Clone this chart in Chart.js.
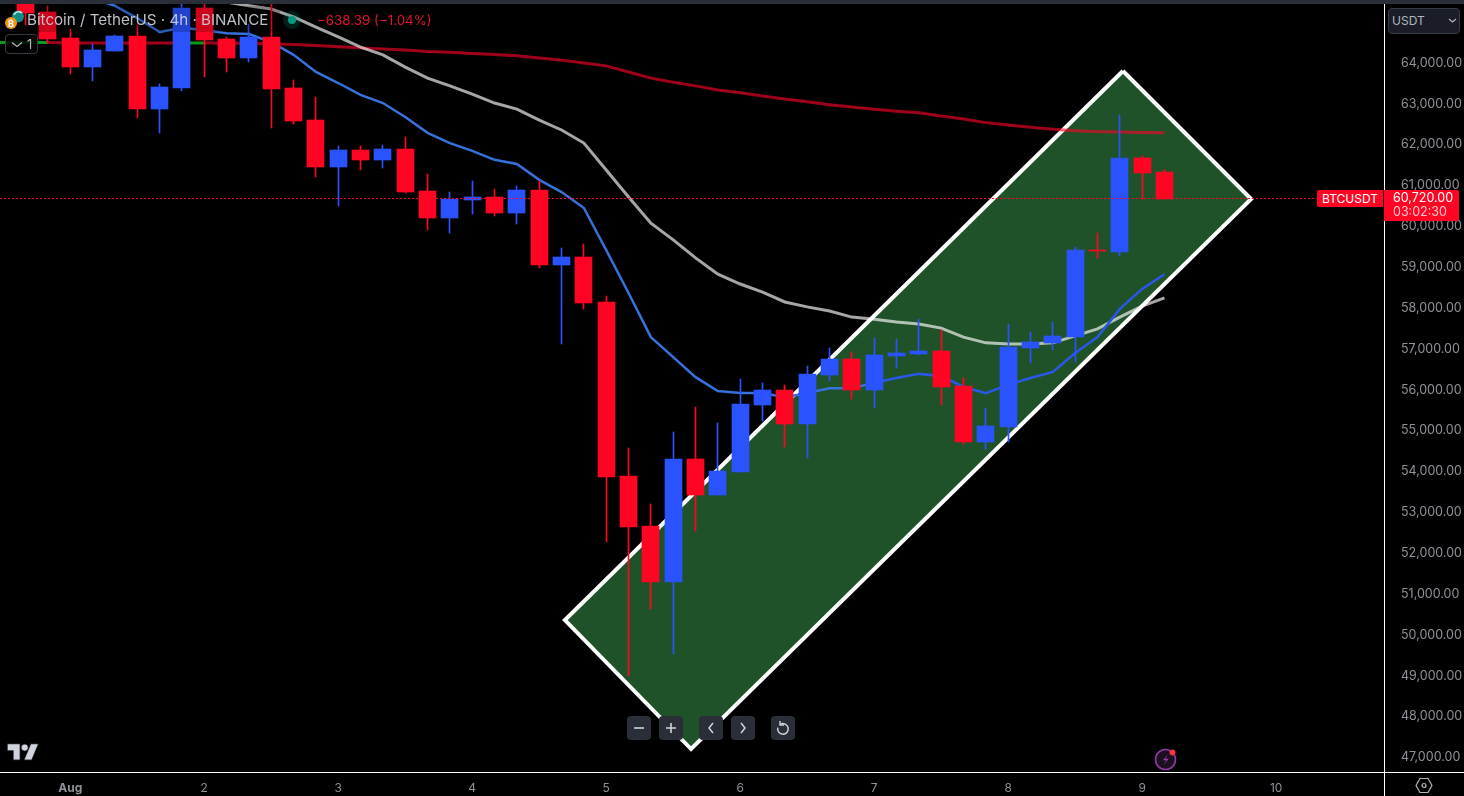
<!DOCTYPE html>
<html>
<head>
<meta charset="utf-8">
<script src="https://cdn.jsdelivr.net/npm/chart.js@4"></script>
<style>
html,body{margin:0;padding:0;background:#000;width:1464px;height:796px;overflow:hidden;font-family:Inter,Roboto,sans-serif}
#wrap{position:absolute;left:0;top:0;width:1464px;height:796px}
.o{position:absolute;white-space:nowrap}
.btn{position:absolute;top:716px;width:24px;height:24px;background:#2a2e39;border-radius:4px}
.btn svg{position:absolute;left:0;top:0}
</style>
</head>
<body>
<div id="wrap"><canvas id="c"></canvas></div>

<div class="o" style="left:0;top:0;width:1464px;height:4px;background:#2a2e39"></div>
<div class="o" style="left:1384px;top:4px;width:1px;height:792px;background:#fff"></div>
<div class="o" style="left:0;top:772px;width:1464px;height:1px;background:#fff"></div>

<div class="o" style="left:36px;top:6px;width:244px;height:26px;background:rgba(0,0,0,.2)"></div>
<svg class="o" style="left:0;top:0" width="40" height="36">
  <circle cx="18" cy="16.5" r="6" fill="#0f8f84"/>
  <path d="M14 15a5 5 0 0 1 8-2" stroke="#cfeee9" stroke-width="1.5" fill="none"/>
  <circle cx="11" cy="23" r="6" fill="#f7931a"/>
  <text x="11" y="26.5" font-size="9" font-weight="700" fill="#fff" text-anchor="middle" font-family="Inter">&#8383;</text>
</svg>
<div class="o" style="left:27px;top:11px;font-size:15.15px;line-height:18px;color:#d1d4dc;opacity:.9">Bitcoin / TetherUS · 4h · BINANCE</div>
<svg class="o" style="left:282px;top:10px" width="20" height="20">
  <circle cx="10" cy="10" r="9" fill="rgba(8,153,129,.2)"/><circle cx="10" cy="10" r="4" fill="#089981"/>
</svg>
<div class="o" style="left:317px;top:12px;font-size:13.35px;line-height:17px;color:#e0122c">−638.39 (−1.04%)</div>
<div class="o" style="left:5px;top:34px;width:31px;height:18px;border:1px solid #363a45;border-radius:4px;background:rgba(0,0,0,.85)">
  <svg style="position:absolute;left:4px;top:5px" width="14" height="10"><path d="M2 2.5l5 4 5-4" stroke="#b2b5be" stroke-width="1.3" fill="none"/></svg>
  <span style="position:absolute;left:21px;top:1px;font-size:13px;line-height:17px;color:#b2b5be">1</span>
</div>

<div class="o" style="left:1388px;top:8px;width:70px;height:24px;border:1px solid #363a45;border-radius:4px;background:#1a1d27">
  <span style="position:absolute;left:3px;top:4px;font-size:12px;line-height:16px;color:#b2b5be">USDT</span>
  <svg style="position:absolute;left:59px;top:8px" width="10" height="8"><path d="M1 2l3.5 3L8 2" stroke="#b2b5be" stroke-width="1.2" fill="none"/></svg>
</div>

<div class="o" style="left:1317px;top:190px;width:66px;height:17px;background:#ff0523;border-radius:2px 0 0 2px;color:#fff;font-size:12px;line-height:17px;text-align:center">BTCUSDT</div>
<div class="o" style="left:1384px;top:190px;width:75px;height:31px;background:#ff0523;border-radius:0 2px 2px 0">
  <span style="position:absolute;left:9px;top:0;font-size:12.5px;line-height:16px;color:#fff">60,720.00</span>
  <span style="position:absolute;left:9px;top:14px;font-size:12.5px;line-height:16px;color:#ffc4cc">03:02:30</span>
</div>

<div class="btn" style="left:627px"><svg width="24" height="24"><path d="M7 12h10" stroke="#d1d4dc" stroke-width="1.6"/></svg></div>
<div class="btn" style="left:659px"><svg width="24" height="24"><path d="M7 12h10M12 7v10" stroke="#d1d4dc" stroke-width="1.6"/></svg></div>
<div class="btn" style="left:699px"><svg width="24" height="24"><path d="M14 7l-4 5 4 5" stroke="#d1d4dc" stroke-width="1.5" fill="none"/></svg></div>
<div class="btn" style="left:731px"><svg width="24" height="24"><path d="M10 7l4 5-4 5" stroke="#d1d4dc" stroke-width="1.5" fill="none"/></svg></div>
<div class="btn" style="left:771px"><svg width="24" height="24"><path d="M9.5 8.2a5.3 5.3 0 1 1-2.7 3.4" stroke="#d1d4dc" stroke-width="1.5" fill="none"/><path d="M9 5v4h4" stroke="#d1d4dc" stroke-width="1.4" fill="none"/></svg></div>

<svg class="o" style="left:5px;top:740px" width="36" height="22" viewBox="-1 -3 38 26">
  <g fill="#d1d4dc" stroke="#2a2e39" stroke-width="1.6" paint-order="stroke">
    <path d="M14 20H7V9H0V2h14v18z"/><path d="M28 20h-8l7.5-18h8L28 20z"/><circle cx="20" cy="6" r="3.6"/>
  </g>
</svg>
<svg class="o" style="left:1152px;top:746px" width="28" height="26">
  <circle cx="13.5" cy="13.5" r="10" fill="#1b0f20" stroke="#8e3aa0" stroke-width="1.6"/>
  <path d="M16 8l-5 6.2h3.4L11.5 19l5.2-6.2h-3.4z" fill="#9c3fb0"/>
  <circle cx="20.5" cy="6.5" r="3" fill="#f23645"/>
</svg>
<svg class="o" style="left:1415px;top:776px" width="18" height="20">
  <path d="M5 2.5h8l4 7-4 7H5l-4-7z" stroke="#b2b5be" stroke-width="1.2" fill="none"/><circle cx="9" cy="9.5" r="2" stroke="#b2b5be" stroke-width="1.2" fill="none"/>
</svg>

<script>
const barIndex = Array.from({length: 54}, (_, k) => k - 4);

const opens = [null,null,65540,65250,64610,63900,64290,64660,62870,63390,65350,64590,64120,64640,63390,62600,61450,61870,61630,61890,60870,60210,60650,60720,60330,60890,59050,59250,58150,53890,52670,51300,54310,53420,53990,55630,55990,55160,56360,56750,55990,56830,56880,56950,56090,54720,55090,57020,57150,57290,59420,59370,61670,61330];
const closes = [null,null,65220,64590,63900,64320,64660,62870,63410,65350,64560,64120,64640,63360,62580,61450,61870,61630,61890,60840,60210,60670,60720,60330,60890,59050,59250,58120,53870,52640,51300,54310,53420,54010,55650,55990,55160,56390,56750,55990,56850,56900,56950,56070,54720,55110,57050,57170,57320,59420,59400,61670,61310,60670];
const highs = [null,null,65660,65400,64830,64470,64690,64930,63490,65660,65660,64640,64950,65660,63580,63170,61970,61970,61990,62190,61280,60840,61110,60920,60990,61110,59470,59570,58300,54580,53200,54970,55580,55190,56260,56170,56120,56580,57020,56930,57270,57240,57730,57460,56290,55550,57610,57410,57660,59500,59840,62730,61720,61380];
const lows = [null,null,64930,64490,63730,63560,64290,62650,62290,63310,63660,63780,64020,62410,62510,61210,60500,61380,61430,60820,59910,59840,60300,60250,60060,58980,57120,57980,52270,48990,50630,49530,52540,53420,53990,55240,54600,54330,56220,55770,55550,56530,56850,55630,54670,54550,54720,56660,56970,56680,59230,59280,60670,60670];

const blueLine = [null,null,null,null,null,65590,65400,65100,64760,64860,64810,64730,64710,64510,64200,63780,63510,63220,63020,62680,62290,62040,61850,61630,61530,61140,60840,60450,59420,58370,57290,56800,56310,55970,55920,55920,55820,55920,56040,56040,56170,56290,56390,56340,56070,55920,56120,56290,56440,56900,57290,57980,58470,58830];
const grayLine = [null,null,null,null,null,null,null,null,null,null,null,65490,65400,65320,65130,64880,64640,64390,64200,63900,63630,63440,63240,63020,62870,62600,62360,62040,61380,60720,60080,59670,59230,58830,58590,58390,58150,58030,57930,57780,57730,57660,57610,57510,57290,57150,57120,57120,57150,57320,57490,57780,58050,58250];
const redLine = [64500,64500,64500,64500,64490,64490,64490,64490,64490,64490,64490,64490,64480,64470,64450,64430,64400,64370,64340,64320,64280,64260,64230,64210,64180,64120,64070,64000,63930,63780,63630,63530,63440,63340,63270,63190,63120,63050,62980,62920,62870,62820,62780,62700,62630,62540,62480,62430,62380,62340,62320,62310,62300,62290];
const greenRuns = [[-4,-1],[5,6]];
const blueShiftIndex = 36;

const channelX = [47.14,52.88,27.80,22.15,47.14];
const channelY = [63804,60671,47207,50365,63804];

const lastPrice = 60683;
const lastPriceX = [-3.15,55.8];

const priceTicks = [47000,48000,49000,50000,51000,52000,53000,54000,55000,56000,57000,58000,59000,60000,61000,62000,63000,64000];
const dayTickIndex = [0,6,12,18,24,30,36,42,48,54];
const dayTickLabels = ['Aug','2','3','4','5','6','7','8','9','10'];

const xMin = -3.148, xMax = 58.83, yMin = 46645, yMax = 65444;
const UP = '#2b52ff', DOWN = '#ff0523';

const pick = arr => barIndex.map((x, k) => ({x, v: arr[k]})).filter(d => d.v !== null).map(d => ({x: d.x, y: d.v}));
const candleRows = barIndex.map((x, k) => ({x, o: opens[k], c: closes[k], h: highs[k], l: lows[k]})).filter(r => r.o !== null);
const candleColors = candleRows.map(r => r.c >= r.o ? UP : DOWN);

const snap = {
  id: 'snap',
  afterDatasetsUpdate(chart) {
    chart.data.datasets.forEach((ds, i) => {
      if (ds.type !== 'bar') return;
      chart.getDatasetMeta(i).data.forEach(el => {
        const h = el.width / 2;
        el.x = Math.round(el.x - h) + h;
        el.y = Math.round(el.y);
        el.base = Math.round(el.base);
      });
    });
  }
};

const noPad = s => { s.paddingTop = 0; s.paddingBottom = 0; s.paddingLeft = 0; s.paddingRight = 0; };

new Chart(document.getElementById('c'), {
  data: {
    datasets: [
      {type:'line', label:'Channel', order:9, data: channelX.map((x,k)=>({x, y:channelY[k]})),
       borderColor:'#fff', borderWidth:4, backgroundColor:'#205229', fill:'shape', pointRadius:0, tension:0, borderJoinStyle:'miter'},
      {type:'line', label:'MA 200', order:8, data: pick(redLine), borderColor:'rgba(255,0,40,.62)', borderWidth:3, pointRadius:0, tension:0,
       segment:{borderColor: c => greenRuns.some(g => c.p0.parsed.x >= g[0] && c.p1.parsed.x <= g[1]) ? '#0a9a1e' : undefined}},
      {type:'line', label:'MA 50', order:7, data: pick(grayLine), borderColor:'rgba(255,255,255,.65)', borderWidth:3, pointRadius:0, tension:0},
      {type:'line', label:'MA 20', order:6, data: pick(blueLine), borderColor:'#3672dc', borderWidth:2.5, pointRadius:0, tension:0,
       segment:{borderColor: c => c.p0.parsed.x >= blueShiftIndex ? '#2a58e6' : undefined}},
      {type:'bar', label:'Wicks', order:5, data: candleRows.map(r=>({x:r.x, y:[r.l,r.h]})), backgroundColor:candleColors, barThickness:1, grouped:false},
      {type:'bar', label:'Bodies', order:4, data: candleRows.map(r=>({x:r.x, y:[r.o,r.c]})), backgroundColor:candleColors, barThickness:17, grouped:false},
      {type:'line', label:'Last price', order:1, data: lastPriceX.map(x=>({x, y:lastPrice})), borderColor:'#ff0523', borderWidth:1, borderDash:[2,2], pointRadius:0}
    ]
  },
  options: {
    responsive:true, maintainAspectRatio:false, animation:false,
    layout:{autoPadding:false, padding:{top:4,left:0,right:0,bottom:0}},
    plugins:{legend:{display:false}, tooltip:{enabled:false}, title:{display:false}},
    scales:{
      x:{type:'linear', offset:false, min:xMin, max:xMax, grid:{display:false}, border:{display:false},
         afterFit(s){s.height=24; noPad(s);},
         afterBuildTicks(s){s.ticks = dayTickIndex.map(v=>({value:v}));},
         ticks:{autoSkip:false, maxRotation:0, padding:1, color:'#8f9199',
                font:c=>({family:'Inter', size:12, weight:c.index===0?'700':'400'}),
                callback:(v)=>dayTickLabels[dayTickIndex.indexOf(v)]}},
      y:{type:'linear', position:'right', min:yMin, max:yMax, grid:{display:false}, border:{display:false},
         afterFit(s){s.width=80; noPad(s);},
         afterBuildTicks(s){s.ticks = priceTicks.map(v=>({value:v}));},
         ticks:{autoSkip:false, padding:9, color:'#8f9199', font:{family:'Inter', size:12.5},
                callback:v=>v.toLocaleString('en-US',{minimumFractionDigits:2,maximumFractionDigits:2})}}
    }
  },
  plugins:[snap]
});
</script>
</body>
</html>
